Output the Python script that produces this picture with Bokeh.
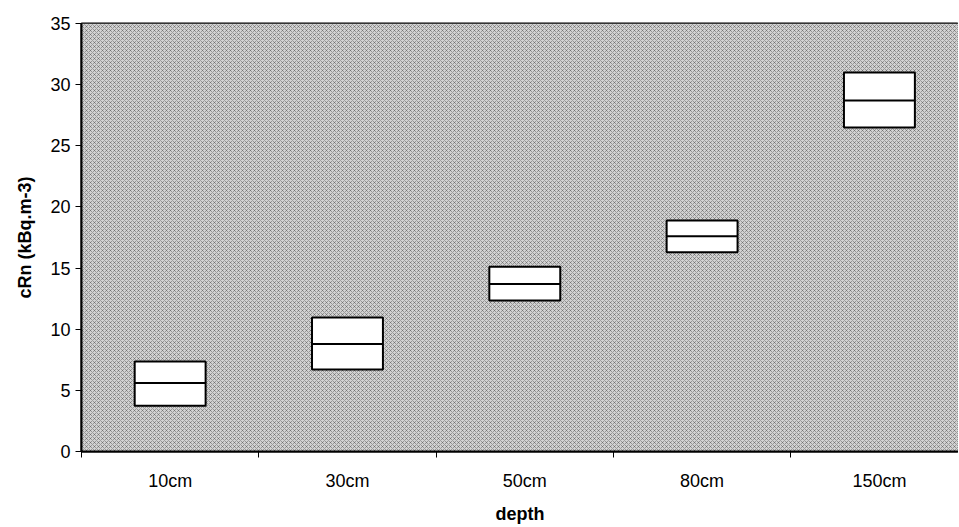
from bokeh.plotting import figure
from bokeh.models import FixedTicker, BoxAnnotation, ColumnDataSource, Range1d
from bokeh.embed import file_html
from bokeh.resources import INLINE

categories = ["10cm", "30cm", "50cm", "80cm", "150cm"]
q_low = [3.75, 6.7, 12.35, 16.3, 26.5]
median = [5.6, 8.8, 13.7, 17.6, 28.7]
q_high = [7.35, 10.95, 15.1, 18.9, 31.0]
y_ticks = [0, 5, 10, 15, 20, 25, 30, 35]

xs = [i + 0.5 for i in range(len(categories))]
src = ColumnDataSource(dict(x=xs, lo=q_low, med=median, hi=q_high,
                            x0=[x - 0.2 for x in xs], x1=[x + 0.2 for x in xs]))

p = figure(frame_width=877, frame_height=428, output_backend="svg", toolbar_location=None,
           x_range=Range1d(0, 4.946), y_range=Range1d(0, 35),
           min_border_left=81, min_border_right=0, min_border_top=23, min_border_bottom=72)

p.background_fill_color = "#ffffff"
p.border_fill_color = "#ffffff"
p.outline_line_color = "black"
p.outline_line_width = 2
p.grid.visible = False

bg = BoxAnnotation(fill_color="#d2d2d2", fill_alpha=1.0, line_alpha=0,
                   hatch_pattern="x", hatch_scale=4, hatch_color="#2a2a2a",
                   hatch_weight=0.6, hatch_alpha=0.6, level="underlay")
p.add_layout(bg)

p.quad(left="x0", right="x1", bottom="lo", top="hi", source=src,
       fill_color="white", line_color="black", line_width=2)
p.segment(x0="x0", x1="x1", y0="med", y1="med", source=src,
          line_color="black", line_width=2)

font = "Liberation Sans"
xa = p.xaxis[0]
xa.ticker = FixedTicker(ticks=xs, minor_ticks=list(range(len(categories) + 1)))
xa.major_label_overrides = {x: c for x, c in zip(xs, categories)}
xa.major_tick_out = 0
xa.major_tick_in = 0
xa.minor_tick_out = 6
xa.minor_tick_in = 0
xa.minor_tick_line_color = "black"
xa.axis_line_color = "black"
xa.axis_line_width = 2
xa.major_label_standoff = 13
xa.major_label_text_font = font
xa.major_label_text_font_size = "18px"
xa.major_label_text_color = "black"
xa.axis_label = "depth"
xa.axis_label_text_font = font
xa.axis_label_text_font_size = "18px"
xa.axis_label_text_font_style = "bold"
xa.axis_label_text_color = "black"
xa.axis_label_standoff = 10

ya = p.yaxis[0]
ya.ticker = FixedTicker(ticks=y_ticks)
ya.minor_tick_line_color = None
ya.major_tick_out = 6
ya.major_tick_in = 0
ya.major_tick_line_color = "black"
ya.axis_line_color = "black"
ya.axis_line_width = 2
ya.major_label_standoff = 5
ya.major_label_text_font = font
ya.major_label_text_font_size = "18px"
ya.major_label_text_color = "black"
ya.axis_label = "cRn (kBq.m-3)"
ya.axis_label_text_font = font
ya.axis_label_text_font_size = "18px"
ya.axis_label_text_font_style = "bold"
ya.axis_label_text_color = "black"
ya.axis_label_standoff = 12

open("out.html", "w").write(file_html(p, INLINE))
